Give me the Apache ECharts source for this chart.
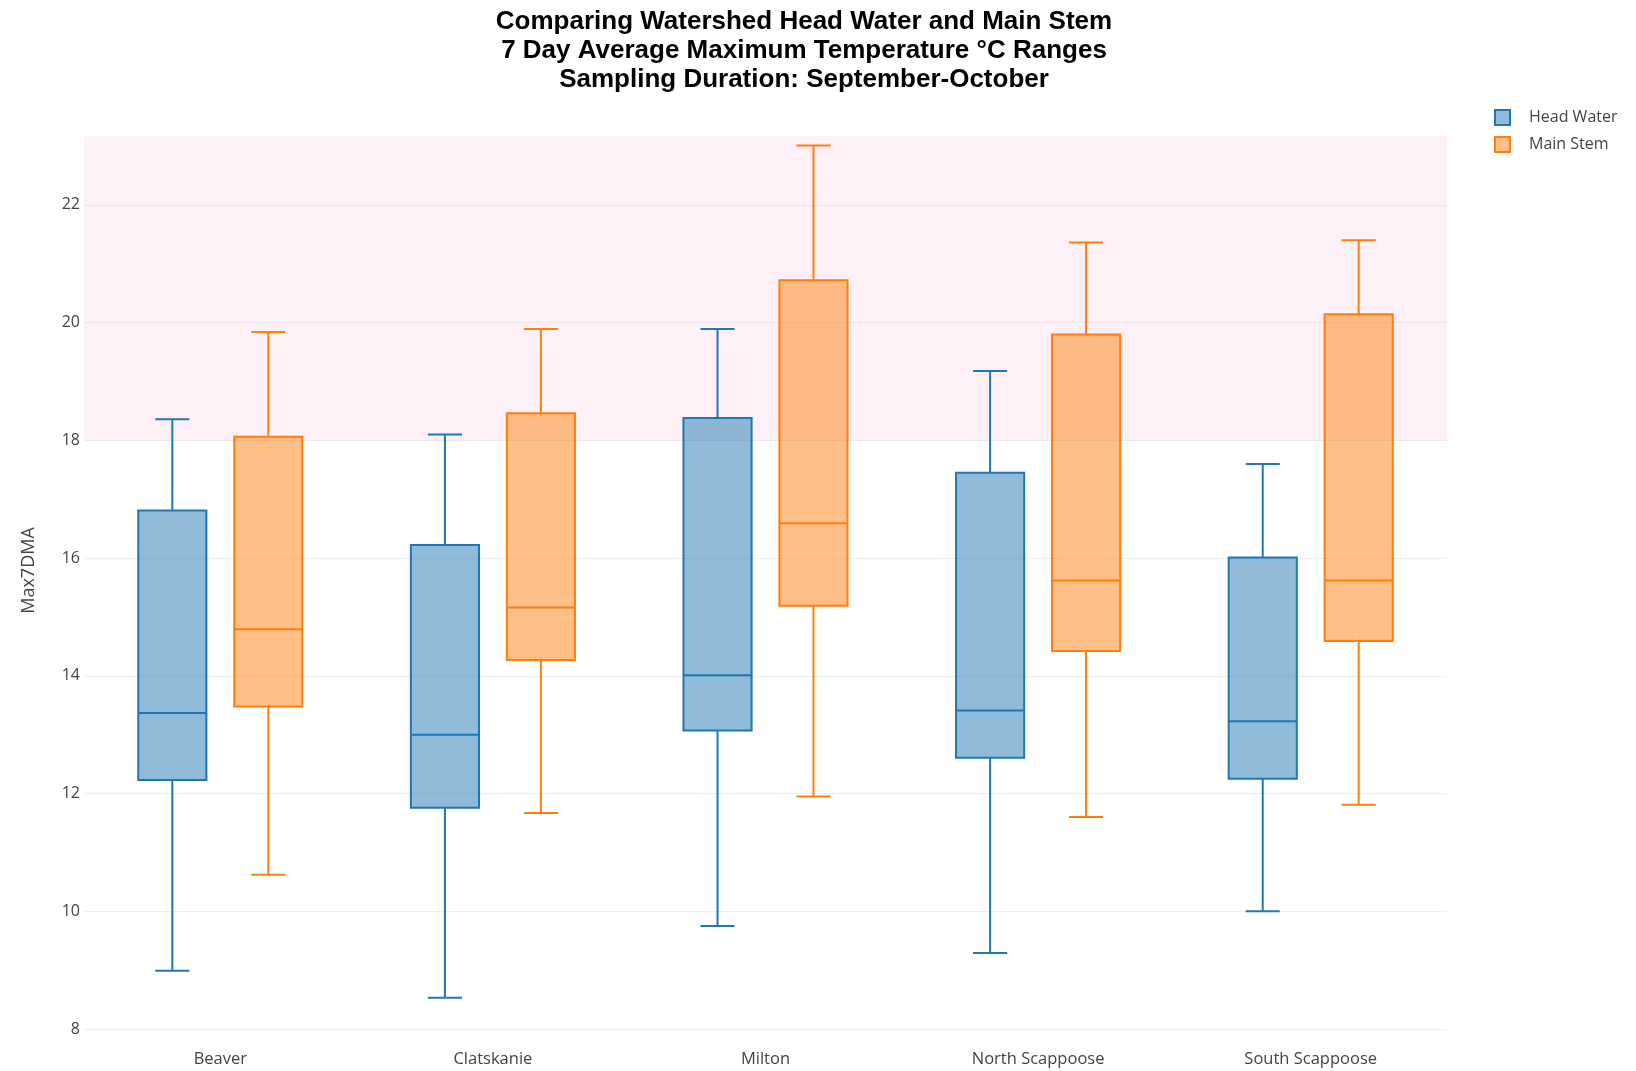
<!DOCTYPE html>
<html>
<head>
<meta charset="utf-8">
<title>Max7DMA box plots</title>
<script src="https://cdn.jsdelivr.net/npm/echarts@6/dist/echarts.min.js"></script>
<style>
  html, body { margin: 0; padding: 0; background: #ffffff; }
  #chart { width: 1636px; height: 1071px; }
</style>
</head>
<body>
<div id="chart"></div>
<script>
// Watersheds along the x axis
const categories = ['Beaver', 'Clatskanie', 'Milton', 'North Scappoose', 'South Scappoose'];

// Head Water five-number summaries (°C)
const headMin    = [8.99, 8.53, 9.75, 9.29, 10.00];
const headQ1     = [12.23, 11.76, 13.07, 12.61, 12.25];
const headMedian = [13.37, 13.00, 14.01, 13.41, 13.23];
const headQ3     = [16.81, 16.22, 18.38, 17.45, 16.01];
const headMax    = [18.36, 18.10, 19.89, 19.18, 17.60];

// Main Stem five-number summaries (°C)
const mainMin    = [10.62, 11.67, 11.95, 11.60, 11.81];
const mainQ1     = [13.48, 14.27, 15.19, 14.42, 14.59];
const mainMedian = [14.79, 15.16, 16.59, 15.62, 15.62];
const mainQ3     = [18.06, 18.46, 20.72, 19.80, 20.14];
const mainMax    = [19.84, 19.89, 23.01, 21.36, 21.40];

// y axis ticks and the shaded range above the 18 °C threshold
const yTicks = [8, 10, 12, 14, 16, 18, 20, 22];
const thresholdLow = 18;

const yMin = 8;
const yMax = 23.17;

function rows(mins, q1s, meds, q3s, maxs) {
  return categories.map((c, i) => [i, mins[i], q1s[i], meds[i], q3s[i], maxs[i]]);
}

// Draws one box with whiskers and half-width caps, offset within the category band
function makeBoxRenderer(offsetRatio, stroke, fill) {
  return function (params, api) {
    const idx = api.value(0);
    const band = api.size([1, 0])[0];
    const boxW = band * 0.25;
    const capW = boxW * 0.5;
    const cx = api.coord([idx, 0])[0] + band * offsetRatio;
    const yLo = api.coord([idx, api.value(1)])[1];
    const yQ1 = api.coord([idx, api.value(2)])[1];
    const yMed = api.coord([idx, api.value(3)])[1];
    const yQ3 = api.coord([idx, api.value(4)])[1];
    const yHi = api.coord([idx, api.value(5)])[1];
    const lineStyle = { stroke: stroke, lineWidth: 2, fill: null };
    return {
      type: 'group',
      children: [
        { type: 'line', shape: { x1: cx, y1: yQ3, x2: cx, y2: yHi }, style: lineStyle },
        { type: 'line', shape: { x1: cx, y1: yQ1, x2: cx, y2: yLo }, style: lineStyle },
        { type: 'line', shape: { x1: cx - capW / 2, y1: yHi, x2: cx + capW / 2, y2: yHi }, style: lineStyle },
        { type: 'line', shape: { x1: cx - capW / 2, y1: yLo, x2: cx + capW / 2, y2: yLo }, style: lineStyle },
        { type: 'rect', shape: { x: cx - boxW / 2, y: yQ3, width: boxW, height: yQ1 - yQ3 },
          style: { fill: fill, stroke: stroke, lineWidth: 2 } },
        { type: 'line', shape: { x1: cx - boxW / 2, y1: yMed, x2: cx + boxW / 2, y2: yMed }, style: lineStyle }
      ]
    };
  };
}

const blue = '#1f77b4';
const orange = '#ff7f0e';
const blueFill = 'rgba(31,119,180,0.5)';
const orangeFill = 'rgba(255,127,14,0.5)';

const chart = echarts.init(document.getElementById('chart'), null, { renderer: 'canvas' });

chart.setOption({
  backgroundColor: '#ffffff',
  animation: false,
  title: {
    text: 'Comparing Watershed Head Water and Main Stem\n7 Day Average Maximum Temperature °C Ranges\nSampling Duration: September-October',
    left: 799,
    top: 2,
    textAlign: 'center',
    textStyle: {
      fontFamily: 'Liberation Sans',
      fontWeight: 'bold',
      fontSize: 26,
      lineHeight: 29,
      color: '#000000'
    }
  },
  legend: {
    orient: 'vertical',
    left: 1489,
    top: 104,
    itemWidth: 15,
    itemHeight: 15,
    itemGap: 10,
    icon: 'rect',
    textStyle: { fontFamily: 'Open Sans', fontSize: 16, color: '#444444', padding: [0, 0, 0, 14] },
    data: [
      { name: 'Head Water', itemStyle: { color: blueFill, borderColor: blue, borderWidth: 2 } },
      { name: 'Main Stem', itemStyle: { color: orangeFill, borderColor: orange, borderWidth: 2 } }
    ]
  },
  grid: { left: 84, right: 189, top: 136, bottom: 42, containLabel: false },
  xAxis: {
    type: 'category',
    data: categories,
    axisLine: { show: false },
    axisTick: { show: false },
    axisLabel: { fontFamily: 'Open Sans', fontSize: 16.5, color: '#444444', margin: 22 },
    splitLine: { show: false }
  },
  yAxis: {
    type: 'value',
    min: yMin,
    max: yMax,
    interval: 2,
    name: 'Max7DMA',
    nameLocation: 'middle',
    nameGap: 46,
    nameTextStyle: { fontFamily: 'Open Sans', fontSize: 18, color: '#444444', padding: [0, 0, 0, 24] },
    axisLine: { show: false },
    axisTick: { show: false },
    axisLabel: {
      fontFamily: 'Open Sans', fontSize: 16, color: '#444444', margin: 4,
      showMaxLabel: false,
      formatter: v => (yTicks.indexOf(v) >= 0 ? String(v) : '')
    },
    splitLine: { show: true, lineStyle: { color: ['#eeeeee', '#eeeeee', '#eeeeee', '#eeeeee', '#eeeeee', '#eeeeee', '#eeeeee', '#eeeeee', 'rgba(0,0,0,0)'], width: 1 } }
  },
  series: [
    {
      type: 'line',
      data: [],
      silent: true,
      z: 0,
      markArea: {
        silent: true,
        itemStyle: { color: 'rgba(243,170,205,0.18)' },
        data: [[{ yAxis: thresholdLow }, { yAxis: yMax }]]
      }
    },
    {
      name: 'Head Water',
      type: 'custom',
      z: 3,
      renderItem: makeBoxRenderer(-0.176, blue, blueFill),
      encode: { x: 0, y: [1, 2, 3, 4, 5] },
      data: rows(headMin, headQ1, headMedian, headQ3, headMax)
    },
    {
      name: 'Main Stem',
      type: 'custom',
      z: 3,
      renderItem: makeBoxRenderer(0.176, orange, orangeFill),
      encode: { x: 0, y: [1, 2, 3, 4, 5] },
      data: rows(mainMin, mainQ1, mainMedian, mainQ3, mainMax)
    }
  ]
});
</script>
</body>
</html>
